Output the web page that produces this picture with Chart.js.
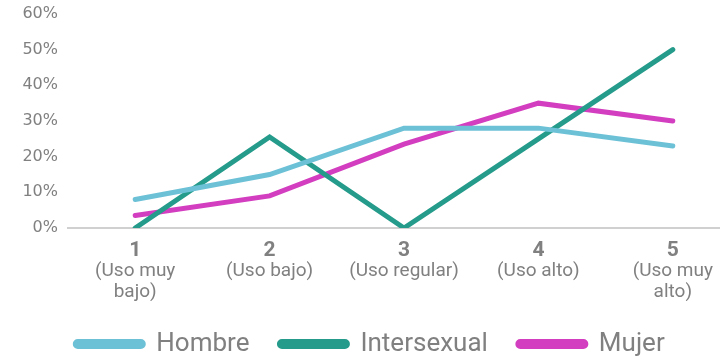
<!DOCTYPE html>
<html>
<head>
<meta charset="utf-8">
<script src="https://cdn.jsdelivr.net/npm/chart.js@4"></script>
<style>
  html, body { margin: 0; padding: 0; background: #fff; overflow: hidden; }
  #wrap { width: 740px; height: 360px; position: relative; }
</style>
</head>
<body>
<div id="wrap"><canvas id="chart0"></canvas></div>
<script>
/** Data **/
let levels = ["1", "2", "3", "4", "5"];
let levelNames = [["(Uso muy", "bajo)"], ["(Uso bajo)"], ["(Uso regular)"], ["(Uso alto)"], ["(Uso muy", "alto)"]];
let hombre = [8, 15, 28, 28, 23];
let intersexual = [0, 25.5, 0, 25, 50];
let mujer = [3.5, 9, 23.5, 35, 30];
let yTicks = [0, 10, 20, 30, 40, 50, 60];

const textColor = "#808080";

function line(label, values, color) {
  return {
    label: label,
    data: values,
    borderColor: color,
    backgroundColor: color,
    borderWidth: 5,
    pointRadius: 0,
    tension: 0,
    borderCapStyle: "round",
    borderJoinStyle: "miter"
  };
}

var ctx = document.getElementById("chart0");
var chart = new Chart(ctx, {
  type: "line",
  data: {
    labels: levels,
    datasets: [
      line("Hombre", hombre, "#6cc1d7"),
      line("Intersexual", intersexual, "#259b8b"),
      line("Mujer", mujer, "#d33dbf")
    ]
  },
  options: {
    responsive: true,
    maintainAspectRatio: false,
    animation: false,
    layout: { padding: 0 },
    plugins: {
      tooltip: { enabled: false },
      legend: {
        position: "bottom",
        maxHeight: 59,
        labels: {
          color: textColor,
          boxWidth: 68,
          boxHeight: 5,
          useBorderRadius: true,
          borderRadius: 2.5,
          padding: 30,
          font: { family: "Roboto", size: 26, lineHeight: 1 }
        }
      }
    },
    scales: {
      x: {
        type: "category",
        offset: true,
        grid: { display: false, drawTicks: false },
        border: { display: true, color: "#d0d0d0", width: 2 },
        ticks: {
          color: textColor,
          padding: 12,
          font: { family: "Roboto", size: 21, weight: "bold", lineHeight: 1 }
        },
        afterFit: function(scale) { scale.height = 33; }
      },
      x2: {
        type: "category",
        position: "bottom",
        labels: levelNames,
        offset: true,
        grid: { display: false, drawTicks: false },
        border: { display: false },
        ticks: {
          color: textColor,
          padding: 0,
          font: { family: "Roboto", size: 19, lineHeight: 1.1 }
        },
        afterFit: function(scale) { scale.height = 40; }
      },
      y: {
        min: 0,
        max: 60,
        afterBuildTicks: function(axis) {
          axis.ticks = yTicks.map(function(v) { return { value: v }; });
        },
        grid: { display: false, drawTicks: false },
        border: { display: false },
        ticks: {
          color: textColor,
          padding: 10,
          font: { family: "DejaVu Sans", size: 16, lineHeight: 0.5 },
          callback: function(value) { return value + "%"; }
        },
        afterFit: function(scale) { scale.width = 68; }
      }
    }
  }
});
</script>
</body>
</html>
